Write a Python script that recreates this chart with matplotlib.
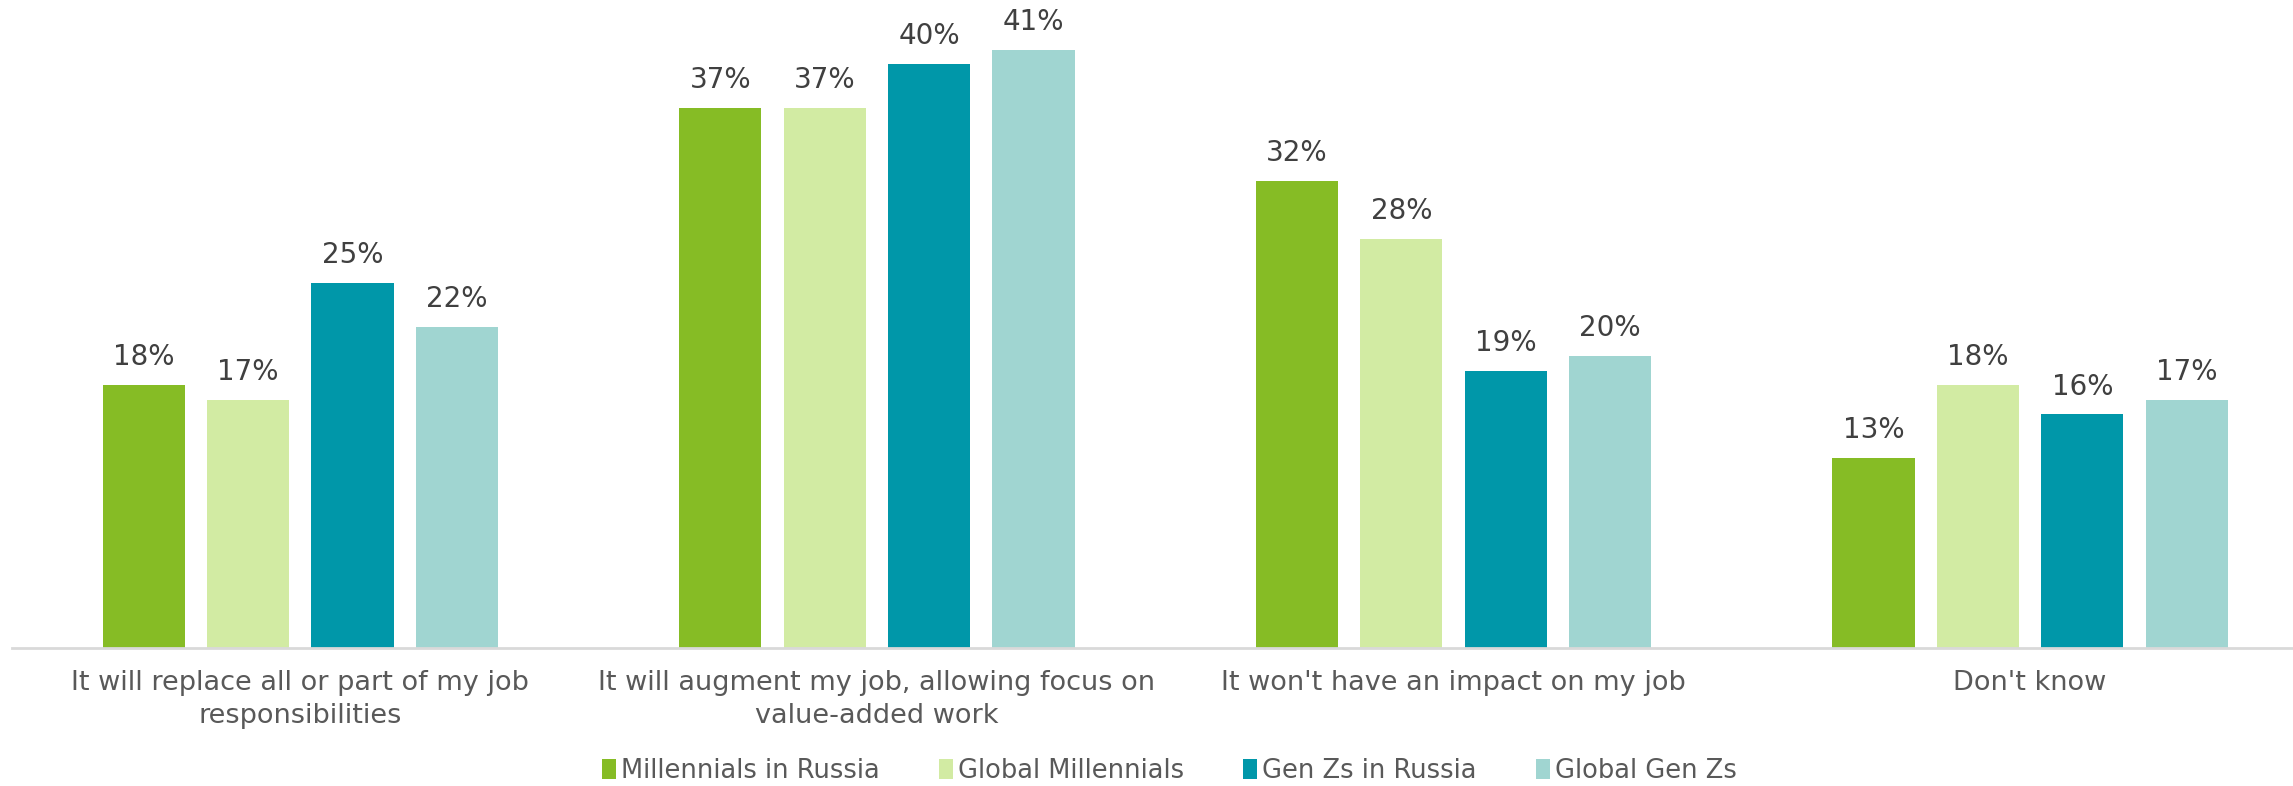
import matplotlib.pyplot as plt
import numpy as np

# Data
categories = ["It will replace all or part of my job\nresponsibilities",
              "It will augment my job, allowing focus on\nvalue-added work",
              "It won't have an impact on my job",
              "Don't know"]
series_names = ["Millennials in Russia", "Global Millennials", "Gen Zs in Russia", "Global Gen Zs"]
millennials_russia = [18, 37, 32, 13]
global_millennials = [17, 37, 28, 18]
genz_russia = [25, 40, 19, 16]
global_genz = [22, 41, 20, 17]

colors = ["#86BC25", "#D2EBA3", "#0097A9", "#A0D5D1"]
text_color = "#404040"

plt.rcParams['font.family'] = ['DejaVu Sans']

fig = plt.figure(figsize=(22.93, 7.86), dpi=100)
ax = fig.add_axes([12 / 2293, 138 / 786, 2281 / 2293, 648 / 786])

x = np.arange(len(categories))
step = 0.181
width = 0.1427
all_series = [millennials_russia, global_millennials, genz_russia, global_genz]
for i, (vals, name, c) in enumerate(zip(all_series, series_names, colors)):
    pos = x + (i - 1.5) * step
    bars = ax.bar(pos, vals, width=width, color=c, label=name)
    for b, v in zip(bars, vals):
        ax.text(b.get_x() + b.get_width() / 2, v + 0.95, f"{v}%",
                ha='center', va='bottom', fontsize=20, color=text_color)

ax.set_xlim(-0.5, -0.5 + 2281 / 576.6)
ax.set_ylim(0, 44.4)
ax.set_yticks([])
ax.set_xticks(x)
ax.set_xticklabels(categories, fontsize=19.5, color="#595959", linespacing=1.35)
ax.tick_params(axis='x', length=0, pad=16)
for s in ['top', 'right', 'left']:
    ax.spines[s].set_visible(False)
ax.spines['bottom'].set_color("#D9D9D9")
ax.spines['bottom'].set_linewidth(2)

leg = fig.legend(loc='center', bbox_to_anchor=(0.510, 15 / 786), ncol=4, frameon=False,
                 fontsize=18.5, handlelength=0.55, handleheight=0.85, handletextpad=0.2,
                 columnspacing=2.3)
for t in leg.get_texts():
    t.set_color("#595959")

fig.savefig("out.png", dpi=100)
